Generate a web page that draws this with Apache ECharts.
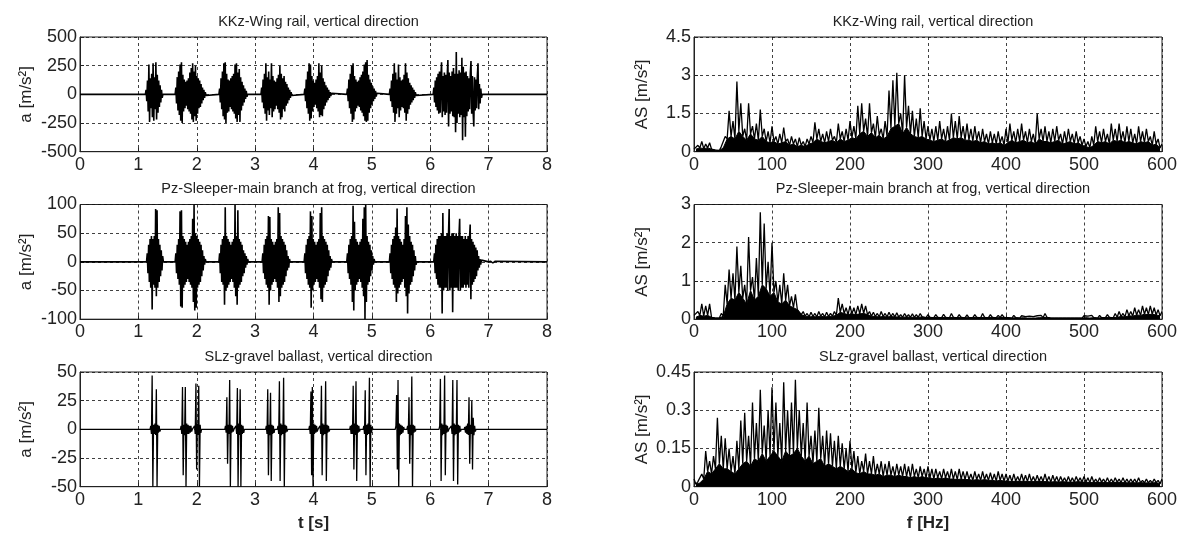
<!DOCTYPE html>
<html><head><meta charset="utf-8">
<script src="https://cdn.jsdelivr.net/npm/echarts@6/dist/echarts.min.js"></script>
<style>html,body{margin:0;padding:0;background:#fff}#c{width:1184px;height:533px}</style>
</head><body><div id="c"></div>
<script>
// ---------------- DATA ----------------
const titles = [
  'KKz-Wing rail, vertical direction',
  'Pz-Sleeper-main branch at frog, vertical direction',
  'SLz-gravel ballast, vertical direction'
];
const timeTicks = [0, 8, 1];      // min, max, step (s)
const freqTicks = [0, 600, 100];  // min, max, step (Hz)
const sampleStep = 0.012;         // s between samples inside a burst
const specStep = 5;               // Hz between spectrum peak samples

// KKz - wing rail, time signal bursts (m/s^2)
const kkzStarts = [1.12, 1.63, 2.38, 3.10, 3.84, 4.57, 5.30, 6.05];
const kkzBursts = [
  [0,40,-60,120,-150,260,-240,140,-120,180,-200,270,-230,150,-130,280,-220,170,-160,120,-110,80,-70,40,-30,0],
  [0,60,-80,150,-140,200,-180,260,-230,280,-250,170,-150,130,-120,110,-100,120,-130,140,-150,190,-170,230,-220,270,-240,200,-190,250,-230,160,-170,140,-120,120,-110,90,-80,60,-50,40,-30,20,-10,0],
  [0,50,-70,140,-130,200,-190,270,-220,280,-250,180,-160,130,-150,120,-110,140,-130,160,-150,180,-170,260,-210,270,-240,190,-180,220,-240,150,-140,110,-100,80,-70,50,-40,30,-20,0],
  [0,60,-70,130,-120,180,-170,270,-230,150,-140,200,-180,130,-120,270,-200,160,-150,120,-130,110,-100,140,-130,170,-160,250,-220,180,-200,140,-130,160,-150,110,-100,90,-80,60,-50,40,-30,20,-10,0],
  [0,50,-60,130,-120,200,-170,270,-230,260,-210,160,-150,120,-110,100,-90,130,-120,160,-150,270,-200,190,-180,250,-190,140,-130,110,-100,80,-70,60,-50,40,-30,20,-15,10,0],
  [0,50,-60,130,-120,180,-170,250,-240,270,-220,160,-150,130,-120,110,-100,120,-110,150,-140,170,-160,200,-190,260,-230,280,-240,300,-230,170,-160,130,-120,100,-90,70,-60,50,-40,30,-20,10,0],
  [0,50,-60,120,-110,180,-160,270,-240,190,-170,130,-120,260,-200,150,-140,120,-110,130,-120,170,-160,270,-230,190,-170,140,-130,100,-90,80,-70,60,-50,40,-30,20,-10,0],
  [0,60,-70,120,-110,150,-140,180,-170,200,-160,150,280,-200,160,-150,190,-180,170,-160,150,300,-280,190,-170,160,-150,200,-190,230,-200,180,-330,370,-250,180,-170,210,-200,190,-180,320,-400,240,-200,190,-370,200,-190,160,-150,140,-130,180,290,-170,160,-150,-280,150,-140,130,-120,150,270,-130,90,-80,50,-30,0]
];

// Pz - sleeper, time signal bursts (m/s^2)
const pzStarts = [1.14, 1.63, 2.38, 3.12, 3.84, 4.57, 5.30, 6.06, 7.00];
const pzBursts = [
  [0,15,-20,30,-35,40,-45,45,-83,40,-40,45,-45,92,-60,90,-45,40,-35,30,-25,20,-15,10,0],
  [0,15,-20,30,-30,40,-40,88,-78,90,-80,45,-45,40,-40,35,-35,30,-30,35,-35,40,-40,45,-45,75,-70,100,-85,50,-80,45,-45,40,-40,35,-35,30,-25,20,-15,10,-5,5,0],
  [0,15,-20,30,-35,40,-40,45,-75,95,-50,45,-45,40,-40,35,-35,30,-30,35,-35,40,-45,100,-60,45,-75,90,-45,40,-40,35,-35,30,-25,20,-20,15,-10,10,-5,5,0],
  [0,15,-20,30,-30,40,-40,45,-45,80,-75,78,-50,40,-40,35,-35,30,-30,35,-35,40,-45,95,-70,85,-60,45,-45,40,-40,35,-35,30,-25,20,-15,10,-10,5,0],
  [0,15,-20,30,-30,40,-40,45,-45,88,-80,80,-50,40,-40,35,-35,30,-30,35,-35,40,-45,85,-65,95,-70,45,-45,40,-40,35,-35,30,-25,20,-15,10,-10,5,0],
  [0,15,-20,30,-30,40,-40,45,-70,98,-85,70,-50,40,-40,35,-35,30,-30,35,-35,40,-45,75,-60,95,-100,100,-70,45,-40,35,-35,30,-25,20,-15,10,-5,5,0],
  [0,15,-20,30,-30,40,-40,45,-45,60,-70,93,-55,45,-45,40,-40,35,-35,30,-30,40,-45,80,-60,95,-90,65,-55,45,-40,35,-35,30,-25,20,-15,10,-5,0],
  [0,15,-20,30,-30,40,-40,45,-45,45,-45,50,-90,85,-50,45,-45,45,-45,50,-50,45,92,-50,45,-45,50,-88,50,-45,45,-45,50,-45,45,-50,45,75,-50,45,-45,45,-45,40,-40,45,-45,40,-40,45,-45,40,65,-65,40,-40,35,-35,30,-30,25,-25,20,-15,10,-10,5,-5,3,0],
  [0,2,-2,1,-1,2,-2,1,-1,1,0]
];

// SLz - gravel ballast, time signal bursts (m/s^2)
const slzStarts = [1.20, 1.72, 1.95, 2.48, 2.66, 3.18, 3.38, 3.92, 4.10, 4.62, 4.85, 5.40, 5.60, 6.15, 6.35, 6.58];
const slzBursts = [
  [0,3,-4,47,-50,4,-4,5,-5,35,-50,4,-3,3,-2,0],
  [0,3,-4,37,-40,4,-5,37,-50,5,-4,4,-4,3,-3,3,-2,0],
  [0,3,-4,40,-35,5,-5,38,-50,4,-3,0],
  [0,3,-3,28,-30,4,-4,43,-50,4,-3,3,-2,0],
  [0,3,-4,36,-50,5,-5,35,-50,4,-4,3,-3,0],
  [0,3,-4,35,-40,4,-5,32,-45,4,-4,3,-3,0],
  [0,3,-4,42,-45,5,-5,4,-4,45,-50,4,-3,3,-2,0],
  [0,3,-4,33,-40,37,-50,5,-4,4,-3,3,-2,0],
  [0,3,-4,38,-40,5,-5,4,-4,42,-45,4,-3,3,-2,0],
  [0,3,-4,4,-4,38,-35,5,-5,42,-45,4,-3,3,-2,0],
  [0,3,-4,34,-40,4,-5,5,-4,45,-50,4,-3,2,0],
  [0,3,30,-35,43,-50,5,-5,4,-4,3,-3,2,0],
  [0,3,-4,28,-30,4,-5,46,-50,4,-3,3,-2,0],
  [0,3,44,-45,5,-5,4,-4,47,-40,4,-3,3,-2,0],
  [0,3,-4,43,-45,5,-5,4,-4,43,-48,4,-3,3,-2,0],
  [0,2,-3,3,-4,5,-5,28,-30,4,-4,25,-35,10,-5,3,-2,0]
];

// Amplitude spectra (m/s^2): peaks at 0,5,...,600 Hz; dense floor (troughs) at 2.5,7.5,... Hz
const kkzPeaks = [0.1,0.25,0.4,0.3,0.35,0.15,0.1,0.2,0.6,1.6,1.2,2.75,1.9,0.9,1.9,1.0,1.1,1.65,0.9,0.8,1.0,0.6,0.7,0.95,0.5,0.6,0.5,0.55,0.4,0.5,0.6,1.15,0.9,0.7,0.8,0.9,0.6,1.1,0.8,0.9,1.2,1.0,1.8,1.9,1.3,1.9,1.1,1.4,0.9,1.2,2.4,2.8,3.1,1.5,3.0,1.8,1.6,1.3,1.7,1.2,1.0,0.9,1.0,1.2,0.9,1.0,1.5,1.2,1.4,1.0,1.1,0.9,1.0,0.8,0.9,0.7,0.8,0.7,0.8,0.6,0.9,1.1,0.8,0.9,1.1,0.8,0.9,0.7,1.5,0.9,1.0,0.8,0.9,1.0,0.7,0.8,0.9,0.7,0.8,0.6,0.5,0.4,0.6,1.0,0.8,0.9,0.7,1.1,0.9,1.1,0.8,1.0,0.9,0.7,1.0,0.8,0.9,0.6,0.8,0.5,0.3];
const kkzTroughs = [0.1,0.15,0.12,0.15,0.1,0.06,0.05,0.15,
  0.5,0.6,0.5,0.8,0.6,0.45,0.7,0.5,0.45,0.6,0.4,0.35,
  0.4,0.3,0.35,0.4,0.25,0.3,0.2,0.25,0.2,0.3,
  0.35,0.5,0.4,0.35,0.4,0.45,0.35,0.5,0.4,0.45,
  0.55,0.5,0.7,0.8,0.6,0.75,0.55,0.65,0.5,0.6,
  0.9,1.0,1.1,0.7,0.95,0.7,0.6,0.55,0.6,0.5,
  0.45,0.4,0.45,0.5,0.4,0.45,0.55,0.5,0.55,0.45,
  0.45,0.4,0.45,0.35,0.4,0.3,0.35,0.3,0.35,0.25,
  0.35,0.45,0.35,0.4,0.45,0.35,0.4,0.3,0.5,0.4,
  0.4,0.35,0.4,0.45,0.3,0.35,0.4,0.3,0.35,0.25,
  0.2,0.15,0.25,0.4,0.35,0.4,0.3,0.45,0.4,0.45,
  0.35,0.4,0.35,0.3,0.4,0.35,0.4,0.25,0.3,0.15];

const pzPeaks = [0.1,0.2,0.4,0.35,0.4,0.1,0.08,0.15,0.9,1.3,1.2,1.9,1.4,0.9,2.15,1.1,1.6,2.8,2.5,1.5,2.0,1.0,0.9,1.2,0.9,0.6,0.65,0.3,0.2,0.15,0.18,0.15,0.2,0.15,0.18,0.15,0.2,0.55,0.4,0.3,0.35,0.3,0.35,0.4,0.35,0.2,0.18,0.15,0.2,0.15,0.18,0.15,0.17,0.12,0.15,0.12,0.14,0.12,0.15,0.1,0.12,0.1,0.12,0.1,0.13,0.1,0.15,0.1,0.12,0.1,0.11,0.09,0.12,0.1,0.15,0.1,0.12,0.09,0.1,0.12,0.1,0.08,0.1,0.08,0.09,0.07,0.08,0.07,0.09,0.1,0.15,0.08,0.07,0.08,0.07,0.06,0.08,0.07,0.08,0.07,0.09,0.08,0.1,0.08,0.1,0.09,0.12,0.1,0.15,0.2,0.15,0.25,0.2,0.3,0.25,0.35,0.3,0.35,0.3,0.25,0.2];
const pzTroughs = [0.05,0.1,0.08,0.1,0.05,0.03,0.03,0.08,
  0.4,0.55,0.5,0.7,0.55,0.4,0.75,0.5,0.6,0.9,0.8,0.6,
  0.7,0.45,0.4,0.5,0.35,0.3,0.25,0.12,0.08,0.06,
  0.07,0.06,0.08,0.06,0.07,0.08,0.1,0.18,0.15,0.12,
  0.14,0.12,0.14,0.15,0.12,0.08,0.07,0.06,0.07,0.06,
  0.07,0.06,0.06,0.05,0.06,0.05,0.05,0.05,0.06,0.04,
  0.05,0.04,0.05,0.04,0.05,0.04,0.05,0.04,0.05,0.04,
  0.04,0.04,0.05,0.04,0.05,0.04,0.05,0.04,0.04,0.05,
  0.04,0.03,0.04,0.03,0.04,0.03,0.03,0.03,0.04,0.04,
  0.05,0.03,0.03,0.03,0.03,0.03,0.03,0.03,0.03,0.03,
  0.04,0.03,0.04,0.03,0.04,0.04,0.05,0.04,0.05,0.07,
  0.06,0.09,0.08,0.11,0.1,0.13,0.12,0.13,0.11,0.09];

const slzPeaks = [0.03,0.02,0.05,0.14,0.1,0.12,0.27,0.2,0.19,0.15,0.12,0.18,0.26,0.29,0.2,0.33,0.25,0.38,0.24,0.3,0.39,0.33,0.25,0.41,0.3,0.33,0.42,0.3,0.25,0.33,0.2,0.22,0.31,0.2,0.22,0.21,0.18,0.2,0.17,0.15,0.18,0.14,0.12,0.1,0.13,0.1,0.12,0.09,0.1,0.09,0.1,0.08,0.09,0.08,0.09,0.08,0.09,0.07,0.08,0.07,0.08,0.07,0.07,0.06,0.07,0.06,0.07,0.06,0.07,0.06,0.06,0.05,0.06,0.05,0.06,0.05,0.055,0.05,0.06,0.05,0.05,0.045,0.05,0.04,0.05,0.045,0.05,0.04,0.045,0.04,0.05,0.04,0.045,0.04,0.04,0.035,0.04,0.035,0.04,0.035,0.04,0.035,0.04,0.03,0.035,0.03,0.035,0.03,0.035,0.03,0.035,0.03,0.03,0.03,0.035,0.025,0.03,0.025,0.03,0.025,0.03];
const slzTroughs = [0.01,0.015,0.03,0.06,0.05,0.07,0.09,0.07,
  0.07,0.06,0.05,0.07,0.09,0.1,0.08,0.11,0.1,0.13,0.1,0.12,
  0.14,0.12,0.1,0.14,0.12,0.13,0.15,0.12,0.1,0.12,
  0.09,0.1,0.11,0.08,0.09,0.08,0.07,0.08,0.07,0.06,
  0.07,0.055,0.05,0.06,0.05,0.05,0.045,0.05,0.04,0.045,
  0.045,0.04,0.045,0.04,0.04,0.035,0.04,0.035,0.04,0.035,
  0.035,0.03,0.035,0.03,0.035,0.03,0.03,0.028,0.03,0.028,
  0.028,0.025,0.028,0.025,0.028,0.025,0.025,0.022,0.025,0.022,
  0.022,0.02,0.022,0.02,0.022,0.02,0.02,0.02,0.022,0.02,
  0.02,0.018,0.02,0.018,0.02,0.018,0.018,0.018,0.02,0.018,
  0.018,0.016,0.018,0.016,0.018,0.016,0.016,0.016,0.018,0.016,
  0.016,0.015,0.016,0.015,0.016,0.015,0.015,0.015,0.016,0.012];

// ---------------- BUILD ----------------
function timeData(starts, bursts) {
  const pts = [[timeTicks[0], 0]];
  starts.forEach((s, k) => {
    bursts[k].forEach((v, i) => pts.push([s + i * sampleStep, v]));
  });
  pts.push([timeTicks[1], 0]);
  return pts;
}
function specData(peaks, troughs) {
  const pts = [];
  peaks.forEach((v, i) => {
    pts.push([i * specStep, v]);
    if (i < troughs.length) pts.push([i * specStep + specStep / 2, troughs[i]]);
  });
  return pts;
}
function floorData(troughs) {
  return troughs.map((v, i) => [i * specStep + specStep / 2, v]);
}

const FONT = 'Liberation Sans, Arial, sans-serif';
const L = {left: 80, width: 467}, R = {left: 694, width: 468};
const tops = [37, 204.5, 372], H = 114.7;

const panels = [
  {col: L, row: 0, title: titles[0], x: timeTicks, y: [-500, 500, 250], yName: 'a [m/s²]', data: timeData(kkzStarts, kkzBursts), lw: 1.6},
  {col: L, row: 1, title: titles[1], x: timeTicks, y: [-100, 100, 50], yName: 'a [m/s²]', data: timeData(pzStarts, pzBursts), lw: 1.6},
  {col: L, row: 2, title: titles[2], x: timeTicks, y: [-50, 50, 25], yName: 'a [m/s²]', data: timeData(slzStarts, slzBursts), xName: 't [s]', lw: 1.3},
  {col: R, row: 0, title: titles[0], x: freqTicks, y: [0, 4.5, 1.5], yName: 'AS [m/s²]', data: specData(kkzPeaks, kkzTroughs), floor: floorData(kkzTroughs), lw: 1.3},
  {col: R, row: 1, title: titles[1], x: freqTicks, y: [0, 3, 1], yName: 'AS [m/s²]', data: specData(pzPeaks, pzTroughs), floor: floorData(pzTroughs), lw: 1.3},
  {col: R, row: 2, title: titles[2], x: freqTicks, y: [0, 0.45, 0.15], yName: 'AS [m/s²]', data: specData(slzPeaks, slzTroughs), floor: floorData(slzTroughs), xName: 'f [Hz]', lw: 1.3}
];

const split = {show: true, lineStyle: {color: '#111', type: [3, 3], width: 0.8}};
const series = [];
panels.forEach((p, i) => {
  if (p.floor) {
    series.push({
      type: 'line', xAxisIndex: i, yAxisIndex: i, data: p.floor,
      showSymbol: false, symbol: 'none', sampling: null,
      lineStyle: {color: '#000', width: 1}, areaStyle: {color: '#000', opacity: 1},
      silent: true, z: 3
    });
  }
  series.push({
    type: 'line', xAxisIndex: i, yAxisIndex: i, data: p.data,
    showSymbol: false, symbol: 'none', sampling: null,
    lineStyle: {color: '#000', width: p.lw}, silent: true, z: 4
  });
});

const option = {
  backgroundColor: '#fff',
  animation: false,
  textStyle: {fontFamily: FONT},
  title: panels.map(p => ({
    text: p.title,
    left: p.col.left + p.col.width / 2,
    top: tops[p.row] - 28,
    textAlign: 'center',
    textStyle: {fontFamily: FONT, fontSize: 14.5, fontWeight: 'normal', color: '#222'}
  })),
  grid: panels.map(p => ({
    left: p.col.left, width: p.col.width, top: tops[p.row], height: H,
    show: true, borderColor: '#222', borderWidth: 1, backgroundColor: 'transparent'
  })),
  xAxis: panels.map((p, i) => ({
    type: 'value', gridIndex: i, min: p.x[0], max: p.x[1], interval: p.x[2],
    axisLine: {show: true, onZero: false, lineStyle: {color: '#222'}},
    axisTick: {show: true, inside: true, length: 4, lineStyle: {color: '#222'}},
    axisLabel: {fontFamily: FONT, fontSize: 18, color: '#222', margin: 4},
    splitLine: split,
    name: p.xName || '', nameLocation: 'middle', nameGap: 28,
    nameTextStyle: {fontFamily: FONT, fontSize: 17, fontWeight: 'bold', color: '#222'}
  })),
  yAxis: panels.map((p, i) => ({
    type: 'value', gridIndex: i, min: p.y[0], max: p.y[1], interval: p.y[2],
    axisLine: {show: true, lineStyle: {color: '#222'}},
    axisTick: {show: true, inside: true, length: 4, lineStyle: {color: '#222'}},
    axisLabel: {fontFamily: FONT, fontSize: 18, color: '#222', margin: 3},
    splitLine: split,
    name: p.yName, nameLocation: 'middle', nameGap: p.col === L ? 45 : 43,
    nameTextStyle: {fontFamily: FONT, fontSize: 17, color: '#222'}
  })),
  series: series
};
const chart = echarts.init(document.getElementById('c'), null, {renderer: 'canvas'});
chart.setOption(option);
</script></body></html>
